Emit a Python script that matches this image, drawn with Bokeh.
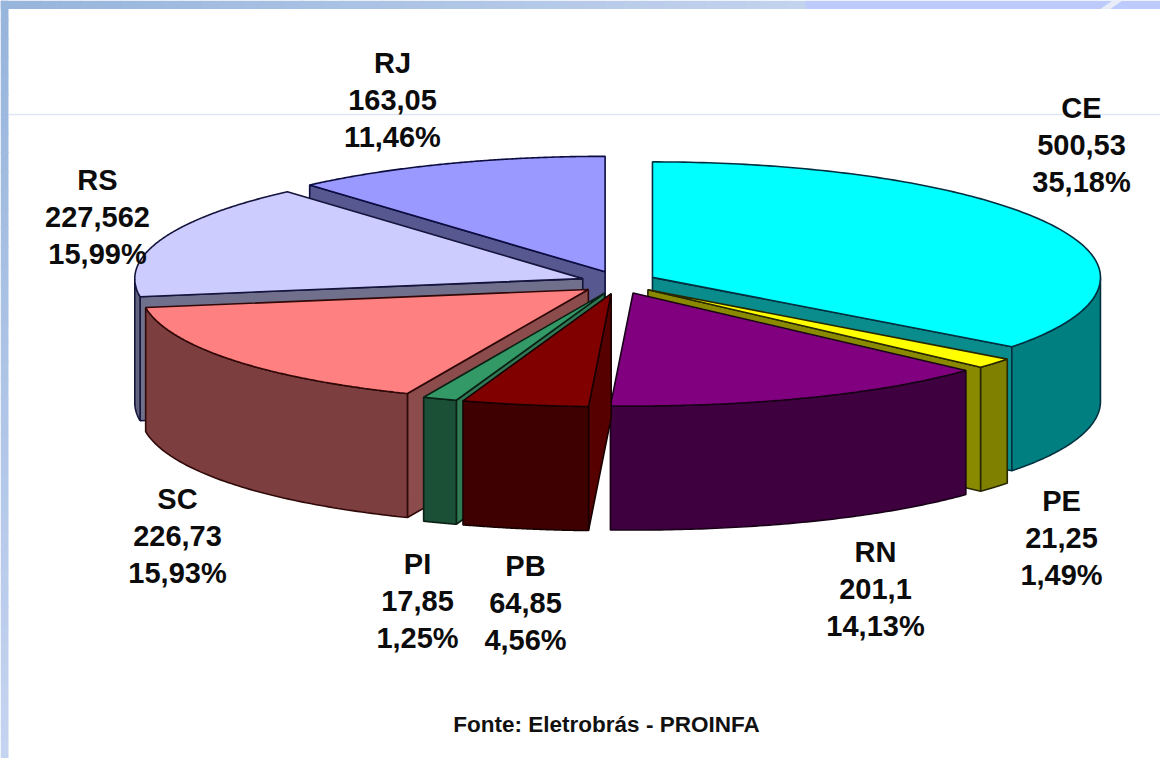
import numpy as np
from bokeh.plotting import figure
from bokeh.models import ColumnDataSource, Range1d
from bokeh.core.properties import value
from bokeh.embed import file_html
from bokeh.resources import INLINE

# ---- data (clockwise from 12 o'clock) ----
states = ["CE", "PE", "RN", "PB", "PI", "SC", "RS", "RJ"]
amounts = ["500,53", "21,25", "201,1", "64,85", "17,85", "226,73", "227,562", "163,05"]
percents = [35.18, 1.49, 14.13, 4.56, 1.25, 15.93, 15.99, 11.46]
pct_labels = ["35,18%", "1,49%", "14,13%", "4,56%", "1,25%", "15,93%", "15,99%", "11,46%"]

# ---- style ----
top_colors = ["#00ffff", "#ffff00", "#800080", "#800000", "#339966", "#ff8080", "#ccccff", "#9999ff"]
outer_colors = ["#007f80", "#7f7f00", "#3e003e", "#3e0000", "#1b5037", "#7c3e3e", "#62627f", "#4c4c80"]
side_colors = ["#0a8c8c", "#8a8a00", "#3e003e", "#560000", "#2f7a55", "#8c4c4c", "#70708c", "#585890"]
edge_colors = ["#003040", "#282800", "#180018", "#180000", "#0a2014", "#300808", "#14143c", "#0c0c40"]
paint_order = ["RJ", "RS", "CE", "PE", "RN", "SC", "PI", "PB"]
label_xy = {"RJ": (392, 62), "CE": (1081, 107), "RS": (97, 179), "SC": (177, 498),
            "PI": (417, 563), "PB": (525, 565), "RN": (875, 551), "PE": (1061, 500)}

W, H = 1160, 758
CX, CY = 618.0, 282.0       # pie centre
EXPLODE, TILT = 38.0, 0.30  # explosion and its vertical squash
RX, RY_BACK, RY_FRONT, FORESHORTEN, DEPTH = 448.0, 115.5, 118.0, 5.0, 124.0

p = figure(width=W, height=H, x_range=Range1d(0, W), y_range=Range1d(H, 0),
           output_backend="svg", toolbar_location=None, min_border=0,
           outline_line_color=None, background_fill_color="white")
p.xaxis.visible = False
p.yaxis.visible = False
p.grid.visible = False

# ---- slide background ----
n = 40
tx = np.linspace(0, 805, n + 1)
for i in range(n):
    t = i / n
    p.quad(left=tx[i], right=tx[i + 1] + 1, top=0, bottom=8.5, line_color=None,
           fill_color=(int(152 + 44 * t), int(181 + 31 * t), int(220 + 18 * t)))
p.quad(left=805, right=1160, top=0, bottom=8.5, line_color=None, fill_color="#bccbfb")
p.patch([1100, 1112, 1122, 1110], [8.5, 0, 0, 8.5], fill_color="#e8ecf6", line_color=None)
ly = np.linspace(0, H, n + 1)
for i in range(n):
    t = i / n
    p.quad(left=0, right=8, top=ly[i], bottom=ly[i + 1] + 1, line_color=None,
           fill_color=(int(152 + 46 * t), int(181 + 32 * t), int(220 + 21 * t)))
p.line([8, 1160], [114, 114], line_color="#dde6f3", line_width=1.5)

# ---- 3D exploded pie, computed from the percentages ----
total = sum(percents)
cum = np.cumsum([0] + percents) / total * 360.0
xs, ys, fills, lines = [], [], [], []


def add(px, py, fill, edge):
    xs.append(list(px)); ys.append(list(py)); fills.append(fill); lines.append(edge)


def rim_y(d):
    c = np.cos(np.radians(d))
    front = np.clip(-c, 0, None)
    return np.where(c >= 0, -RY_BACK * c, RY_FRONT * front - FORESHORTEN * front ** 3)


for st in paint_order:
    i = states.index(st)
    a, b = cum[i], cum[i + 1]
    mid = np.radians((a + b) / 2)
    ax = CX + EXPLODE * np.sin(mid)
    ay = CY - EXPLODE * TILT * np.cos(mid)
    rim = lambda d: (ax + RX * np.sin(np.radians(d)), ay + rim_y(d))
    # flat radial faces that look towards the viewer
    for d, visible in ((a, np.sin(np.radians(a)) < -1e-6), (b, np.sin(np.radians(b)) > 1e-6)):
        if visible:
            ex, ey = rim(d)
            add([ax, ex, ex, ax], [ay, ey, ey + DEPTH, ay + DEPTH], side_colors[i], edge_colors[i])
    # curved outer wall
    lo, hi = max(a, 90.0), min(b, 270.0)
    if lo < hi:
        t = np.linspace(lo, hi, 80)
        ex, ey = rim(t)
        add(np.r_[ex, ex[::-1]], np.r_[ey, ey[::-1] + DEPTH], outer_colors[i], edge_colors[i])
    # top face
    t = np.linspace(a, b, 160)
    ex, ey = rim(t)
    add(np.r_[ax, ex], np.r_[ay, ey], top_colors[i], edge_colors[i])

p.patches("xs", "ys", source=ColumnDataSource(dict(xs=xs, ys=ys, f=fills, l=lines)),
          fill_color="f", line_color="l", line_width=1.6)

# ---- labels ----
tx_, ty_, tt_ = [], [], []
for i, st in enumerate(states):
    x, y = label_xy[st]
    for k, s in enumerate((st, amounts[i], pct_labels[i])):
        tx_.append(x); ty_.append(y + 37 * k); tt_.append(s)
p.text(tx_, ty_, text=tt_, text_font=value("Liberation Sans"), text_font_style="bold",
       text_font_size="29px", text_align="center", text_baseline="middle", text_color="#0c0c0c")
p.text([606], [724], text=["Fonte: Eletrobrás - PROINFA"], text_font=value("Liberation Sans"),
       text_font_style="bold", text_font_size="22.5px", text_align="center",
       text_baseline="middle", text_color="#111111")

open("out.html", "w").write(file_html(p, INLINE))
